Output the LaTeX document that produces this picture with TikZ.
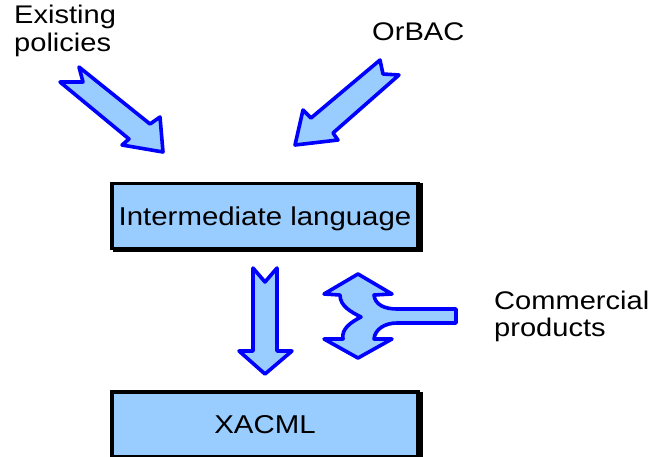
\documentclass[tikz,border=0pt]{standalone}
\usepackage{fontspec}
\setmainfont{Liberation Sans}[FakeStretch=1.14]
\definecolor{arrowblue}{RGB}{0,0,255}
\definecolor{paleblue}{RGB}{153,204,255}
\begin{document}
\begin{tikzpicture}[x=1pt,y=-1pt,
  blockarrow/.style={draw=arrowblue, fill=paleblue, line width=3.6pt, line join=round},
  stagebox/.style={draw=black, fill=paleblue, line width=3.5pt,
    minimum width=306pt, minimum height=65pt, inner sep=0pt,
    text height=18pt, text depth=0pt,
    font=\fontsize{25.8pt}{27.5pt}\selectfont,
    preaction={draw=black, fill=black, line width=3.5pt,
      transform canvas={shift={(3pt,-1.5pt)}}}},
  caption/.style={font=\fontsize{25.5pt}{27.5pt}\selectfont, inner sep=0pt, anchor=base west}]
\useasboundingbox (0,0) rectangle (653,456);
\clip (0,0) rectangle (653,456);

% inputs to the intermediate language
\draw[blockarrow] (79,67) -- (150,124) -- (160,117) -- (163,152) -- (122,145)
  -- (129,139) -- (60,82) -- (83,82) -- cycle;
\draw[blockarrow] (380,60) -- (383,74) -- (399,75) -- (333,133) -- (338,140)
  -- (295,145) -- (303,110) -- (311,118) -- cycle;

% translation to XACML
\draw[blockarrow] (253,268) -- (265,282) -- (277,268) -- (277,351) -- (292,351)
  -- (265,374) -- (239,351) -- (253,351) -- cycle;

% commercial products feeding both levels
\draw[blockarrow] (358,274) -- (392,294) -- (374,295)
  .. controls (375,305) and (385,309) .. (397,309) -- (456,309) -- (456,323)
  -- (397,323) .. controls (385,323) and (375,329) .. (374,339)
  -- (392,339) -- (358,358) -- (324,339) -- (343,339)
  .. controls (341,329) and (351,322) .. (361,317)
  .. controls (351,312) and (340,306) .. (340,295)
  -- (324,294) -- cycle;

% language boxes
\node[stagebox] (inter) at (265,216) {Intermediate language};
\node[stagebox] (xacml) at (265,424.5) {XACML};

% captions
\node[caption] (exist1) at (14,23.5) {Existing};
\node[caption] (exist2) at (14,51) {policies};
\node[caption] (orbac) at (372,40) {OrBAC};
\node[caption] (comm1) at (494,309) {Commercial};
\node[caption] (comm2) at (494,336) {products};
\end{tikzpicture}
\end{document}
